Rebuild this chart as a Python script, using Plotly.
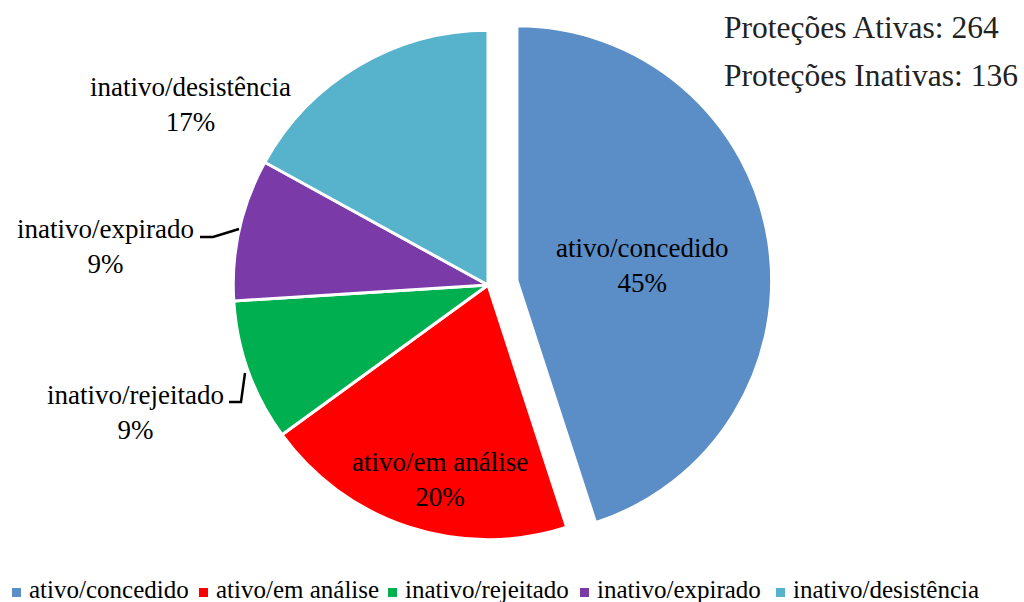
import plotly.graph_objects as go

# Situação das proteções (percentual de cada categoria)
categorias = ["ativo/concedido", "ativo/em análise", "inativo/rejeitado",
              "inativo/expirado", "inativo/desistência"]
valores = [45, 20, 9, 9, 17]
cores = ["#5B8DC6", "#FF0000", "#00B050", "#7A3AA8", "#57B2CC"]
destaque = [0.115, 0, 0, 0, 0]
total_ativas = 264
total_inativas = 136

W, H = 1024, 602
SERIF = "Liberation Serif"


def px(x):
    return x / W


def py(y):
    return 1 - y / H


fig = go.Figure()
fig.add_trace(go.Pie(
    labels=categorias,
    values=valores,
    sort=False,
    direction="clockwise",
    rotation=0,
    pull=destaque,
    marker=dict(colors=cores, line=dict(color="white", width=3)),
    textinfo="none",
    showlegend=False,
    domain=dict(x=[px(204), px(772)], y=[py(569), py(1)]),
))

soma = sum(valores)
pct = [f"{round(100 * v / soma)}%" for v in valores]

# posição (px) do rótulo de cada fatia
rotulos_xy = [(642, 265), (440, 479), (135, 412), (105, 246), (190, 104)]
annotations = []
for nome, p, (lx, ly) in zip(categorias, pct, rotulos_xy):
    annotations.append(dict(
        x=px(lx), y=py(ly), xref="paper", yref="paper",
        text=f"{nome}<br>{p}", showarrow=False,
        xanchor="center", yanchor="middle", align="center",
        font=dict(family=SERIF, size=27, color="black"),
    ))

# totais no canto superior direito
annotations.append(dict(
    x=px(722), y=py(28), xref="paper", yref="paper",
    text=f"Proteções Ativas: {total_ativas}", showarrow=False,
    xanchor="left", yanchor="middle",
    font=dict(family=SERIF, size=31.5, color="#222222"),
))
annotations.append(dict(
    x=px(722), y=py(76), xref="paper", yref="paper",
    text=f"Proteções Inativas: {total_inativas}", showarrow=False,
    xanchor="left", yanchor="middle",
    font=dict(family=SERIF, size=31.5, color="#222222"),
))

# legenda horizontal
legenda_x = [12, 199, 388, 580, 776]
shapes = []
for nome, cor, lx in zip(categorias, cores, legenda_x):
    shapes.append(dict(
        type="rect", xref="paper", yref="paper",
        x0=px(lx), x1=px(lx + 9), y0=py(597), y1=py(588),
        fillcolor=cor, line=dict(width=0),
    ))
    annotations.append(dict(
        x=px(lx + 15), y=py(589), xref="paper", yref="paper",
        text=nome, showarrow=False, xanchor="left", yanchor="middle",
        font=dict(family=SERIF, size=25, color="black"),
    ))


def linha(pontos):
    d = "M " + " L ".join(f"{px(a)},{py(b)}" for a, b in pontos)
    return dict(type="path", xref="paper", yref="paper", path=d,
                line=dict(color="black", width=2.5))


# linhas de chamada dos rótulos externos
shapes.append(linha([(200, 237), (213, 237), (239, 229)]))
shapes.append(linha([(229, 402), (241, 402), (245, 373)]))

fig.update_layout(
    width=W, height=H,
    margin=dict(l=0, r=0, t=0, b=0),
    paper_bgcolor="white",
    plot_bgcolor="white",
    annotations=annotations,
    shapes=shapes,
)

fig.write_html("out.html")
